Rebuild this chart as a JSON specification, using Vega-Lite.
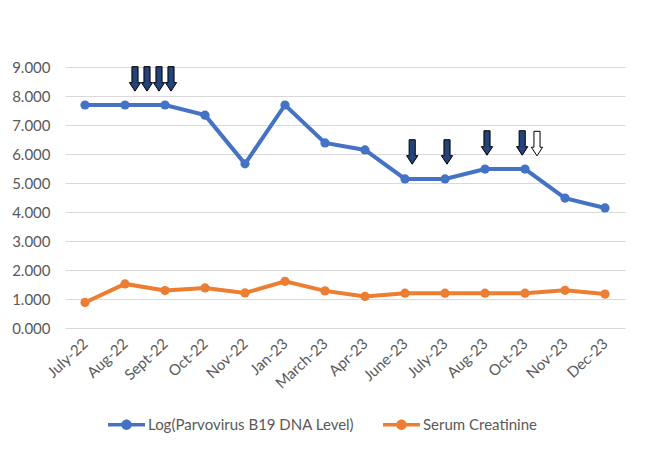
{
  "$schema": "https://vega.github.io/schema/vega-lite/v6.json",
  "width": 560,
  "height": 261,
  "autosize": {"type": "none"},
  "padding": {"left": 65, "top": 67, "right": 21, "bottom": 125},
  "background": "white",
  "config": {
    "view": {"stroke": null},
    "font": "Lato",
    "axis": {"labelColor": "#595959", "labelFont": "Lato"},
    "legend": {"labelFont": "Lato"}
  },
  "datasets": {
    "series": [
      {"month": "July-22", "i": 0, "series": "Log(Parvovirus B19 DNA Level)", "value": 7.69},
      {"month": "Aug-22", "i": 1, "series": "Log(Parvovirus B19 DNA Level)", "value": 7.69},
      {"month": "Sept-22", "i": 2, "series": "Log(Parvovirus B19 DNA Level)", "value": 7.69},
      {"month": "Oct-22", "i": 3, "series": "Log(Parvovirus B19 DNA Level)", "value": 7.34},
      {"month": "Nov-22", "i": 4, "series": "Log(Parvovirus B19 DNA Level)", "value": 5.66},
      {"month": "Jan-23", "i": 5, "series": "Log(Parvovirus B19 DNA Level)", "value": 7.69},
      {"month": "March-23", "i": 6, "series": "Log(Parvovirus B19 DNA Level)", "value": 6.38},
      {"month": "Apr-23", "i": 7, "series": "Log(Parvovirus B19 DNA Level)", "value": 6.14},
      {"month": "June-23", "i": 8, "series": "Log(Parvovirus B19 DNA Level)", "value": 5.14},
      {"month": "July-23", "i": 9, "series": "Log(Parvovirus B19 DNA Level)", "value": 5.14},
      {"month": "Aug-23", "i": 10, "series": "Log(Parvovirus B19 DNA Level)", "value": 5.48},
      {"month": "Oct-23", "i": 11, "series": "Log(Parvovirus B19 DNA Level)", "value": 5.48},
      {"month": "Nov-23", "i": 12, "series": "Log(Parvovirus B19 DNA Level)", "value": 4.48},
      {"month": "Dec-23", "i": 13, "series": "Log(Parvovirus B19 DNA Level)", "value": 4.14},
      {"month": "July-22", "i": 0, "series": "Serum Creatinine", "value": 0.88},
      {"month": "Aug-22", "i": 1, "series": "Serum Creatinine", "value": 1.52},
      {"month": "Sept-22", "i": 2, "series": "Serum Creatinine", "value": 1.29},
      {"month": "Oct-22", "i": 3, "series": "Serum Creatinine", "value": 1.38},
      {"month": "Nov-22", "i": 4, "series": "Serum Creatinine", "value": 1.21},
      {"month": "Jan-23", "i": 5, "series": "Serum Creatinine", "value": 1.61},
      {"month": "March-23", "i": 6, "series": "Serum Creatinine", "value": 1.28},
      {"month": "Apr-23", "i": 7, "series": "Serum Creatinine", "value": 1.09},
      {"month": "June-23", "i": 8, "series": "Serum Creatinine", "value": 1.2},
      {"month": "July-23", "i": 9, "series": "Serum Creatinine", "value": 1.2},
      {"month": "Aug-23", "i": 10, "series": "Serum Creatinine", "value": 1.2},
      {"month": "Oct-23", "i": 11, "series": "Serum Creatinine", "value": 1.2},
      {"month": "Nov-23", "i": 12, "series": "Serum Creatinine", "value": 1.3},
      {"month": "Dec-23", "i": 13, "series": "Serum Creatinine", "value": 1.17}
    ],
    "arrows": [
      {"i": 1.25, "value": 8.59, "style": "filled"},
      {"i": 1.55, "value": 8.59, "style": "filled"},
      {"i": 1.85, "value": 8.59, "style": "filled"},
      {"i": 2.15, "value": 8.59, "style": "filled"},
      {"i": 8.18, "value": 6.07, "style": "filled"},
      {"i": 9.05, "value": 6.07, "style": "filled"},
      {"i": 10.05, "value": 6.38, "style": "filled"},
      {"i": 10.93, "value": 6.38, "style": "filled"},
      {"i": 11.3, "value": 6.36, "style": "hollow"}
    ]
  },
  "encoding": {
    "x": {
      "field": "i", "type": "quantitative",
      "scale": {"domain": [-0.5, 13.5], "nice": false, "zero": false},
      "axis": {
        "values": [0,1,2,3,4,5,6,7,8,9,10,11,12,13],
        "labelExpr": "['July-22','Aug-22','Sept-22','Oct-22','Nov-22','Jan-23','March-23','Apr-23','June-23','July-23','Aug-23','Oct-23','Nov-23','Dec-23'][datum.value]",
        "labelAngle": -43, "labelAlign": "right", "labelBaseline": "middle",
        "labelFlush": false, "labelOverlap": false,
        "grid": false, "domain": false, "ticks": false, "title": null,
        "labelFontSize": 15, "labelPadding": 13
      }
    },
    "y": {
      "field": "value", "type": "quantitative",
      "scale": {"domain": [0, 9], "nice": false},
      "axis": {
        "values": [0,1,2,3,4,5,6,7,8,9], "format": ".3f", "labelOverlap": false,
        "grid": true, "gridColor": "#D9D9D9", "gridWidth": 1,
        "domain": false, "ticks": false, "title": null,
        "labelFontSize": 15, "labelPadding": 15
      }
    }
  },
  "layer": [
    {
      "data": {"name": "series"},
      "mark": {"type": "line", "strokeWidth": 4},
      "encoding": {
        "color": {
          "field": "series", "type": "nominal",
          "scale": {"domain": ["Log(Parvovirus B19 DNA Level)", "Serum Creatinine"], "range": ["#4472C4", "#ED7D31"]},
          "legend": {
            "orient": "none", "legendX": 43, "legendY": 339, "direction": "horizontal",
            "title": null, "padding": 0,
            "symbolType": "M-1,-0.09H1V0.09H-1Z M0.28,0 A0.28,0.28 0 1,1 -0.28,0 A0.28,0.28 0 1,1 0.28,0Z",
            "symbolSize": 1369, "symbolStrokeWidth": 0,
            "labelFontSize": 15, "labelColor": "#595959", "labelLimit": 400,
            "columnPadding": 28, "labelOffset": 3,
            "encode": {"symbols": {"update": {"fill": {"scale": "color", "field": "value"}, "opacity": {"value": 1}}}}
          }
        }
      }
    },
    {
      "data": {"name": "series"},
      "mark": {"type": "point", "filled": true, "size": 85, "opacity": 1},
      "encoding": {
        "color": {"field": "series", "type": "nominal"}
      }
    },
    {
      "data": {"name": "arrows"},
      "mark": {
        "type": "point",
        "shape": "M-0.25,-1 L0.25,-1 L0.25,0.3 L0.46,0.3 L0,1 L-0.46,0.3 L-0.25,0.3 Z",
        "size": 600, "stroke": "black", "strokeWidth": 1, "opacity": 1
      },
      "encoding": {
        "fill": {
          "field": "style", "type": "nominal",
          "scale": {"domain": ["filled", "hollow"], "range": ["#24437A", "white"]},
          "legend": null
        }
      }
    }
  ]
}
